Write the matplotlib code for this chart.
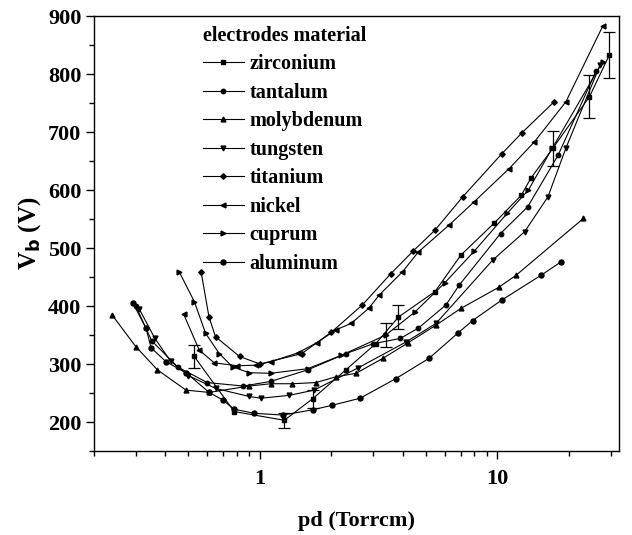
import matplotlib.pyplot as plt
from matplotlib.ticker import LogLocator, NullFormatter, FixedLocator, FixedFormatter, MultipleLocator

# donnees (pd en Torr.cm, Vb en V)
zr_x = [0.529, 0.779, 1.266, 1.665, 2.3, 3.07, 3.83, 5.46, 7.02, 9.69, 12.6, 13.8, 17.1, 24.4, 29.6]
zr_y = [313, 218, 203, 240, 290, 335, 381, 425, 488, 543, 591, 620, 672, 761, 833]
zr_err_x = [0.529, 1.266, 1.665, 3.83, 17.1, 24.4, 29.6]
zr_err_y = [313, 203, 240, 381, 672, 761, 833]
zr_err = [20, 13, 15, 20, 30, 37, 40]

ta_x = [0.30, 0.35, 0.45, 0.6, 0.85, 1.11, 1.59, 2.3, 3.0, 3.89, 4.65, 6.07, 6.9, 10.3, 13.4, 18.0, 26.0]
ta_y = [400, 340, 295, 268, 262, 270, 290, 318, 335, 344, 362, 402, 436, 525, 571, 660, 805]

mo_x = [0.239, 0.30, 0.37, 0.488, 0.611, 0.9, 1.11, 1.37, 1.72, 2.09, 2.54, 3.3, 4.18, 5.51, 7.02, 10.1, 11.97, 23.0]
mo_y = [384, 330, 290, 255, 251, 262, 266, 266, 268, 278, 284, 310, 336, 367, 396, 432, 453, 551]

w_x = [0.31, 0.36, 0.42, 0.5, 0.65, 0.9, 1.01, 1.33, 1.69, 2.58, 4.12, 5.51, 9.54, 13.0, 16.3, 19.4, 27.0]
w_y = [395, 345, 305, 280, 258, 244, 241, 246, 255, 293, 338, 370, 479, 528, 588, 672, 815]

ti_x = [0.565, 0.61, 0.65, 0.82, 1.0, 1.5, 2.0, 2.7, 3.56, 4.42, 5.46, 7.13, 10.4, 12.7, 17.3]
ti_y = [459, 381, 347, 313, 300, 318, 355, 402, 456, 495, 531, 588, 662, 699, 752]

ni_x = [0.477, 0.555, 0.642, 0.803, 0.962, 1.11, 1.44, 1.74, 2.09, 2.42, 2.87, 3.18, 3.98, 4.64, 6.27, 7.99, 11.2, 14.3, 19.4, 27.7]
ni_y = [386, 324, 302, 297, 298, 304, 319, 337, 359, 370, 396, 419, 459, 493, 540, 580, 637, 683, 752, 882]

cu_x = [0.457, 0.53, 0.59, 0.674, 0.767, 0.9, 1.11, 1.59, 2.2, 3.39, 4.5, 6.0, 8.0, 11.0, 13.5, 17.0, 27.7]
cu_y = [459, 407, 353, 318, 295, 285, 284, 292, 315, 350, 390, 440, 495, 560, 600, 672, 821]
cu_err_x = [3.39]
cu_err_y = [350]
cu_err = [20]

al_x = [0.291, 0.331, 0.348, 0.402, 0.488, 0.611, 0.696, 0.779, 0.946, 1.245, 1.665, 2.02, 2.64, 3.74, 5.16, 6.84, 7.86, 10.4, 15.25, 18.5]
al_y = [406, 362, 328, 304, 285, 251, 238, 222, 215, 212, 221, 229, 241, 275, 310, 354, 375, 410, 453, 476]

plt.rcParams['font.family'] = ['Liberation Serif', 'DejaVu Serif']
plt.rcParams['font.weight'] = 'bold'

fig = plt.figure(figsize=(6.32, 5.35), dpi=100)
ax = fig.add_axes([0.1487, 0.157, 0.8313, 0.813])

series = [
  ("zirconium", zr_x, zr_y, 's', 3.2),
  ("tantalum", ta_x, ta_y, 'o', 3.2),
  ("molybdenum", mo_x, mo_y, '^', 3.5),
  ("tungsten", w_x, w_y, 'v', 3.5),
  ("titanium", ti_x, ti_y, 'D', 2.8),
  ("nickel", ni_x, ni_y, '<', 3.5),
  ("cuprum", cu_x, cu_y, '>', 3.5),
  ("aluminum", al_x, al_y, 'o', 3.6),
]
for nom, xs, ys, m, ms in series:
  ax.plot(xs, ys, color='black', linewidth=0.8, marker=m, markersize=ms,
          markerfacecolor='black', markeredgecolor='black', label=nom)

ax.errorbar(zr_err_x, zr_err_y, yerr=zr_err, fmt='none', ecolor='black',
            elinewidth=0.9, capsize=4, capthick=0.9)
ax.errorbar(cu_err_x, cu_err_y, yerr=cu_err, fmt='none', ecolor='black',
            elinewidth=0.9, capsize=4, capthick=0.9)

ax.set_xscale('log')
ax.set_xlim(0.2, 32.6)
ax.set_ylim(150, 900)
ax.xaxis.set_major_locator(FixedLocator([1, 10]))
ax.xaxis.set_major_formatter(FixedFormatter(['1', '10']))
ax.xaxis.set_minor_locator(LogLocator(base=10, subs=[2, 3, 4, 5, 6, 7, 8, 9], numticks=10))
ax.xaxis.set_minor_formatter(NullFormatter())
ax.yaxis.set_major_locator(MultipleLocator(100))
ax.yaxis.set_minor_locator(MultipleLocator(50))
ax.tick_params(which='major', direction='out', length=6, width=1, labelsize=16)
ax.tick_params(axis='x', which='major', pad=7)
ax.tick_params(axis='y', which='major', pad=3)
ax.tick_params(which='minor', direction='out', length=3.6, width=1)
for s in ax.spines.values():
  s.set_linewidth(1)

ax.set_xlabel('pd (Torrcm)', fontsize=16, fontweight='bold', labelpad=16)
ax.set_ylabel('V$_\\mathbf{b}$ (V)', fontsize=18, fontweight='bold', labelpad=4)

leg = ax.legend(loc='upper left', bbox_to_anchor=(0.185, 1.005), frameon=False,
                title='electrodes material', alignment='left',
                prop={'size': 14.5, 'weight': 'bold'}, handlelength=2.0,
                handletextpad=0.3, labelspacing=0.42, borderaxespad=0.2)
leg.get_title().set_fontsize(14.5)
leg.get_title().set_fontweight('bold')

fig.savefig('out.png', dpi=100)
